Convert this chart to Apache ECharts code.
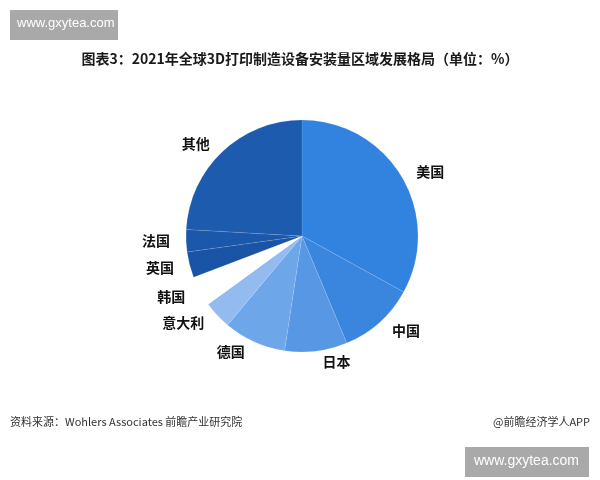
<!DOCTYPE html>
<html><head><meta charset="utf-8">
<script src="https://cdn.jsdelivr.net/npm/echarts@6/dist/echarts.min.js"></script>
<style>html,body{margin:0;padding:0;background:#fff}#c{width:600px;height:480px}</style>
</head><body><div id="c"></div>
<script>
var categories = ['美国','中国','日本','德国','意大利','韩国','英国','法国','其他'];
var shares = [33.0, 10.7, 8.7, 8.7, 3.9, 4.2, 3.6, 3.1, 24.1];
var sliceColors = ['#3282e0','#3a85de','#5797e3','#6ea6ea','#93bbf0','#ffffff','#1a54a6','#1b57aa','#1d5bae'];
var titleText = '图表3：2021年全球3D打印制造设备安装量区域发展格局（单位：%）';
var sourceText = '资料来源：Wohlers Associates 前瞻产业研究院';
var creditText = '@前瞻经济学人APP';
var siteText = 'www.gxytea.com';

var chart = echarts.init(document.getElementById('c'), null, {renderer:'canvas'});
var font = '"Noto Sans CJK SC", "Noto Sans", sans-serif';
chart.setOption({
  backgroundColor:'#ffffff',
  animation:false,
  title:{text:titleText,left:'center',top:47,
    textStyle:{fontSize:14,fontWeight:'bold',color:'#1a1a1a',fontFamily:font}},
  graphic:[
    {type:'rect',left:10,top:10,shape:{width:108,height:30},style:{fill:'#a9a9a9'}},
    {type:'text',left:17,top:17,style:{text:siteText,fill:'#fff',font:'13px "Liberation Sans", Arial, sans-serif'}},
    {type:'rect',left:465,top:447,shape:{width:124,height:30},style:{fill:'#a9a9a9'}},
    {type:'text',left:474,top:454,style:{text:siteText,fill:'#fff',font:'14px "Liberation Sans", Arial, sans-serif'}},
    {type:'text',left:10,top:416,style:{text:sourceText,fill:'#333',font:'11px '+font}},
    {type:'text',right:10,top:416,style:{text:creditText,fill:'#333',font:'11px '+font}}
  ],
  series:[{
    type:'pie',
    center:[302,236],
    radius:116,
    startAngle:90,
    clockwise:true,
    avoidLabelOverlap:false,
    data:categories.map(function(n,i){return {name:n,value:shares[i],itemStyle:{color:sliceColors[i]}};}),
    itemStyle:{borderColor:'rgba(255,255,255,0.18)',borderWidth:0.6},
    label:{show:true,position:'outside',formatter:'{b}',fontSize:14,fontWeight:'bold',color:'#111',fontFamily:font},
    labelLine:{show:false,length:11,length2:0},
    emphasis:{disabled:true}
  }]
});
</script></body></html>
